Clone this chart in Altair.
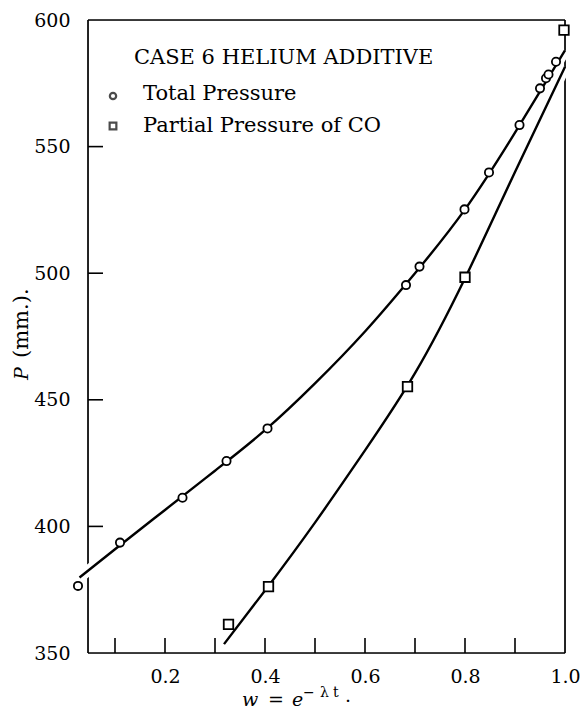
import altair as alt
import pandas as pd

SERIF = "DejaVu Serif"

# Observed total pressure (circles) and CO partial pressure (squares)
total_w = [0.026, 0.110, 0.235, 0.323, 0.405, 0.682, 0.709, 0.799, 0.848, 0.909, 0.950, 0.962, 0.967, 0.982]
total_p = [376.5, 393.6, 411.3, 425.8, 438.7, 495.3, 502.6, 525.2, 539.8, 558.5, 573.0, 577.0, 578.5, 583.5]
co_w = [0.327, 0.407, 0.685, 0.800, 0.998]
co_p = [361.3, 376.2, 455.2, 498.4, 596.0]

# Smooth curves drawn through each set
total_fit_w = [0.029, 0.10, 0.20, 0.30, 0.40, 0.50, 0.60, 0.70, 0.80, 0.90, 1.00]
total_fit_p = [379.8, 391.0, 406.5, 422.0, 438.0, 456.5, 477.0, 500.0, 525.2, 555.5, 588.0]
co_fit_w = [0.318, 0.407, 0.50, 0.60, 0.70, 0.80, 0.90, 1.00]
co_fit_p = [353.5, 376.5, 401.5, 430.0, 460.5, 498.0, 540.0, 581.5]

# Axis ticks and labels
x_ticks = [0.1, 0.2, 0.3, 0.4, 0.5, 0.6, 0.7, 0.8, 0.9]
x_labels = [0.2, 0.4, 0.6, 0.8, 1.0]
y_ticks = [400, 450, 500, 550]
y_labels = [350, 400, 450, 500, 550, 600]

W, H = 477, 633

total_pts = pd.DataFrame({"w": total_w, "p": total_p})
co_pts = pd.DataFrame({"w": co_w, "p": co_p})
total_fit = pd.DataFrame({"w": total_fit_w, "p": total_fit_p})
co_fit = pd.DataFrame({"w": co_fit_w, "p": co_fit_p})

xs = alt.Scale(domain=[0.046, 1.0], nice=False, zero=False)
ys = alt.Scale(domain=[350, 600], nice=False, zero=False)

x_axis = alt.Axis(values=x_labels, format=".1f", title=None, grid=False, domain=False,
                  ticks=False, tickSize=0, labelPadding=14, labelFont=SERIF,
                  labelFontSize=19, labelColor="black", labelOverlap=False, labelBound=False,
                  labelFlush=False)
y_axis = alt.Axis(values=y_labels, format="d", title=None, grid=False, domain=False,
                  ticks=False, tickSize=0, labelPadding=18, labelFont=SERIF,
                  labelFontSize=19, labelColor="black", labelOverlap=False, labelBound=False,
                  labelFlush=False)

X = lambda: alt.X("w:Q", scale=xs, axis=x_axis)
Y = lambda: alt.Y("p:Q", scale=ys, axis=y_axis)

one = pd.DataFrame({"k": [0]})

# plot frame
def edge(x, x2, y, y2):
    return alt.Chart(one).mark_rule(color="black", strokeWidth=1.7).encode(
        x=alt.value(x), x2=alt.value(x2), y=alt.value(y), y2=alt.value(y2))

frame = [edge(0, W, 0, 0), edge(0, W, H, H), edge(0, 0, 0, H), edge(W, W, 0, H)]

# inward ticks
xt = alt.Chart(pd.DataFrame({"w": x_ticks})).mark_rule(color="black", strokeWidth=1.6).encode(
    x=X(), y=alt.value(H), y2=alt.value(H - 15))
yt = alt.Chart(pd.DataFrame({"p": y_ticks})).mark_rule(color="black", strokeWidth=1.6).encode(
    y=Y(), x=alt.value(0), x2=alt.value(15))

def curve(df):
    halo = alt.Chart(df).mark_line(color="white", strokeWidth=11, interpolate="natural",
                                   strokeCap="butt").encode(x=X(), y=Y())
    line = alt.Chart(df).mark_line(color="black", strokeWidth=2.4, interpolate="natural").encode(
        x=X(), y=Y())
    return halo, line

th, tl = curve(total_fit)
ch, cl = curve(co_fit)

circles = alt.Chart(total_pts).mark_point(shape="circle", size=68, filled=False, fill="white",
                                          fillOpacity=1, color="black", strokeWidth=1.8).encode(x=X(), y=Y())
squares = alt.Chart(co_pts).mark_point(shape="square", size=90, filled=False, fill="white",
                                       fillOpacity=1, color="black", strokeWidth=1.8).encode(x=X(), y=Y())

def txt(s, x, y, size=19, style="normal", align="left", baseline="alphabetic", angle=None):
    kw = dict(text=s, font=SERIF, fontSize=size, fontStyle=style, align=align,
              baseline=baseline, color="black")
    if angle is not None:
        kw["angle"] = angle
    return alt.Chart(one).mark_text(**kw).encode(x=alt.value(x), y=alt.value(y))

def sym(shape, x, y, size):
    return alt.Chart(one).mark_point(shape=shape, size=size, filled=False, color="black",
                                     strokeWidth=2.2).encode(x=alt.value(x), y=alt.value(y))

legend = [
    txt("CASE 6 HELIUM ADDITIVE", 46, 44, size=21),
    sym("circle", 25, 76, 40),
    txt("Total Pressure", 55, 80, size=21),
    sym("square", 25, 106, 45),
    txt("Partial Pressure of CO", 55, 112, size=21),
]

titles = [
    txt("w", 154, 686, style="italic"),
    txt("=", 180, 686),
    txt("e", 204, 686, style="italic"),
    txt("\u2212", 215, 677, size=14),
    txt("\u03bb", 232, 677, size=14),
    txt("t", 245, 677, size=14),
    txt(".", 257, 682),
    txt("P", -66, 360, style="italic", baseline="middle", angle=270),
    txt("(mm.).", -66, 338, size=21, baseline="middle", angle=270),
]

chart = alt.layer(*frame, th, ch, xt, yt, tl, cl, circles, squares, *legend, *titles).properties(
    width=W, height=H,
    autosize=alt.AutoSizeParams(type="none"),
    padding={"left": 88, "top": 20, "right": 20, "bottom": 56},
).configure_view(stroke=None).configure(background="white")

chart.save("out.html", embed_options={"renderer": "svg", "actions": False})
